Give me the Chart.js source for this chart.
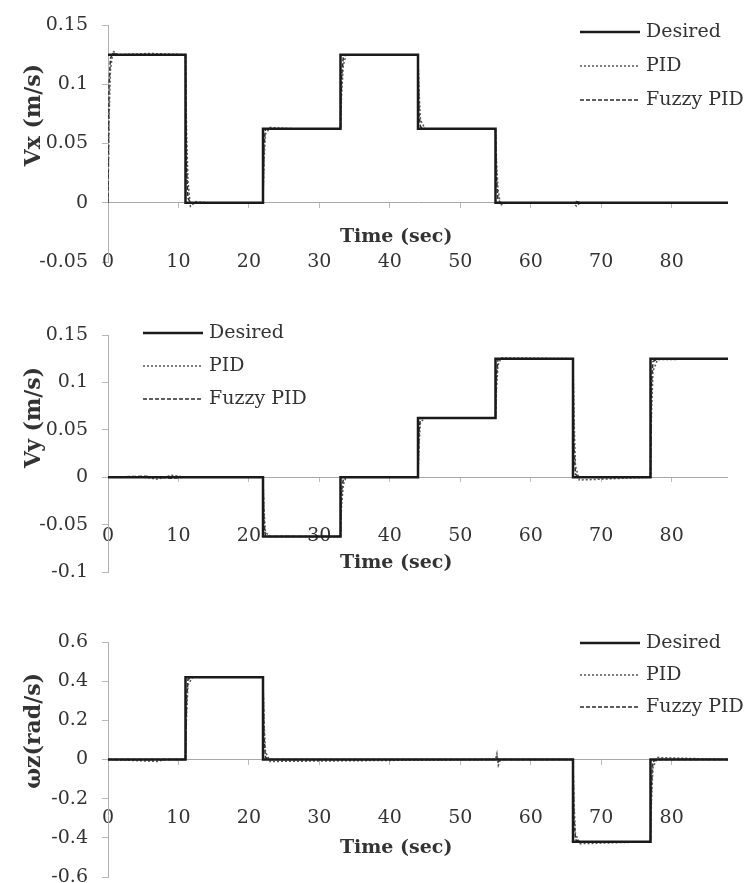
<!DOCTYPE html>
<html>
<head>
<meta charset="utf-8">
<script src="https://cdn.jsdelivr.net/npm/chart.js@4.4.0/dist/chart.umd.min.js"></script>
<style>
  html, body { margin: 0; padding: 0; background: #fff; }
  #wrap { position: relative; width: 749px; height: 883px; }
  canvas { position: absolute; left: 0; }
</style>
</head>
<body>
<div id="wrap">
  <canvas id="vx" width="749" height="290" style="top:0px"></canvas>
  <canvas id="vy" width="749" height="310" style="top:290px"></canvas>
  <canvas id="wz" width="749" height="283" style="top:600px"></canvas>
</div>
<script>
// shared time axis
var timeTicks = [0, 10, 20, 30, 40, 50, 60, 70, 80];
var timeMax = 88;
var seriesNames = ['Desired', 'PID', 'Fuzzy PID'];

// Vx (m/s)
var vxTicks = [-0.05, 0, 0.05, 0.1, 0.15];
var vxDesiredT = [0, 11, 22, 33, 44, 55, 88];
var vxDesired = [0.125, 0, 0.0625, 0.125, 0.0625, 0, 0];
var vxRespT = [0, 0.15, 0.35, 0.7, 1.4, 6, 11, 11.15, 11.35, 11.7, 12.5, 14, 22, 22.15, 22.35, 23, 28, 33, 33.15, 33.4, 33.8, 44, 44.15, 44.35, 45, 55, 55.15, 55.35, 55.7, 56.5, 66, 66.5, 67, 88];
var vxPid = [0, 0.07, 0.112, 0.128, 0.125, 0.126, 0.125, 0.06, 0.018, -0.003, 0.001, 0, 0, 0.035, 0.058, 0.0635, 0.062, 0.0625, 0.09, 0.116, 0.125, 0.125, 0.094, 0.07, 0.0625, 0.0625, 0.035, 0.012, -0.002, 0, 0, -0.003, 0, 0];
var vxFuzzy = [0, 0.1, 0.122, 0.126, 0.125, 0.125, 0.125, 0.03, 0.004, 0, 0, 0, 0, 0.05, 0.062, 0.0625, 0.0625, 0.0625, 0.105, 0.123, 0.125, 0.125, 0.075, 0.064, 0.0625, 0.0625, 0.02, 0.003, 0, 0, 0, 0.001, 0, 0];

// Vy (m/s)
var vyTicks = [-0.1, -0.05, 0, 0.05, 0.1, 0.15];
var vyDesiredT = [0, 22, 33, 44, 55, 66, 77, 88];
var vyDesired = [0, -0.0625, 0, 0.0625, 0.125, 0, 0.125, 0.125];
var vyRespT = [0, 5, 7, 9, 11, 22, 22.15, 22.35, 23, 33, 33.15, 33.4, 33.8, 44, 44.15, 44.35, 45, 55, 55.15, 55.35, 55.8, 66, 66.15, 66.35, 66.9, 77, 77.15, 77.35, 78, 88];
var vyPid = [0, 0, -0.002, 0.002, 0, 0, -0.035, -0.058, -0.0625, -0.0625, -0.03, -0.008, 0, 0, 0.035, 0.058, 0.0625, 0.0625, 0.095, 0.118, 0.126, 0.125, 0.06, 0.012, -0.003, 0, 0.07, 0.112, 0.124, 0.125];
var vyFuzzy = [0, 0.001, 0, -0.001, 0, 0, -0.05, -0.062, -0.0625, -0.0625, -0.015, -0.002, 0, 0, 0.05, 0.062, 0.0625, 0.0625, 0.108, 0.124, 0.125, 0.125, 0.03, 0.003, 0, 0, 0.1, 0.122, 0.125, 0.125];

// wz (rad/s)
var wzTicks = [-0.6, -0.4, -0.2, 0, 0.2, 0.4, 0.6];
var wzDesiredT = [0, 11, 22, 66, 77, 88];
var wzDesired = [0, 0.42, 0, -0.42, 0, 0];
var wzRespT = [0, 7, 8, 11, 11.15, 11.35, 12, 22, 22.15, 22.35, 23, 55, 55.2, 55.4, 55.7, 66, 66.15, 66.35, 67, 77, 77.15, 77.35, 78, 88];
var wzPid = [0, -0.01, 0, 0, 0.22, 0.38, 0.42, 0.42, 0.2, 0.04, -0.01, 0, 0.03, -0.03, 0, 0, -0.22, -0.38, -0.43, -0.42, -0.2, -0.04, 0.01, 0];
var wzFuzzy = [0, 0, 0, 0, 0.3, 0.41, 0.42, 0.42, 0.12, 0.01, 0, 0, 0.015, -0.01, 0, 0, -0.3, -0.41, -0.42, -0.42, -0.12, -0.01, 0, 0];

var FONT = '"DejaVu Serif", serif';
Chart.defaults.font.family = FONT;
Chart.defaults.font.size = 19;
Chart.defaults.color = '#333';

function pts(t, v) {
    return t.map(function (x, i) { return { x: x, y: v[i] }; });
}

function makeDatasets(dT, d, rT, pid, fuzzy) {
    return [
        { label: seriesNames[0], data: pts(dT, d), stepped: true, borderColor: '#1a1a1a', borderWidth: 2.5, pointRadius: 0 },
        { label: seriesNames[1], data: pts(rT, pid), borderColor: '#555', borderWidth: 1.5, borderDash: [2, 2], pointRadius: 0 },
        { label: seriesNames[2], data: pts(rT, fuzzy), borderColor: '#2a2a2a', borderWidth: 1.5, borderDash: [4, 2], pointRadius: 0 }
    ];
}

function timeTickList(s) {
    s.ticks = timeTicks.map(function (v) { return { value: v }; });
}

// axis titles and the three-line legend, placed like the original figure
var plotText = {
    id: 'plotText',
    afterDraw: function (chart, args, opts) {
        var ctx = chart.ctx, xs = chart.scales.x, ys = chart.scales.y;
        ctx.save();
        ctx.fillStyle = '#333';
        ctx.textAlign = 'center';
        ctx.textBaseline = 'middle';
        ctx.font = 'bold 19px ' + FONT;
        ctx.fillText(opts.xTitle, xs.getPixelForValue(opts.xTitleAt[0]), ys.getPixelForValue(opts.xTitleAt[1]));
        ctx.save();
        ctx.font = 'bold 22px ' + FONT;
        ctx.translate(opts.yTitleX, ys.getPixelForValue(opts.yTitleAt));
        ctx.rotate(-Math.PI / 2);
        ctx.fillText(opts.yTitle, 0, 0);
        ctx.restore();

        ctx.font = '19px ' + FONT;
        ctx.textAlign = 'left';
        chart.data.datasets.forEach(function (ds, i) {
            var y = opts.legendY + i * opts.legendGap;
            ctx.beginPath();
            ctx.strokeStyle = ds.borderColor;
            ctx.lineWidth = ds.borderWidth;
            ctx.setLineDash(ds.borderDash || []);
            ctx.moveTo(opts.legendX, y);
            ctx.lineTo(opts.legendX + 60, y);
            ctx.stroke();
            ctx.setLineDash([]);
            ctx.fillText(ds.label, opts.legendX + 66, y);
        });
        ctx.restore();
    }
};

function makeChart(id, o) {
    return new Chart(document.getElementById(id), {
        type: 'line',
        data: { datasets: o.datasets },
        options: {
            responsive: false,
            animation: false,
            layout: { padding: { top: o.top, right: 21, bottom: o.bottom, left: 0 } },
            plugins: {
                legend: { display: false },
                tooltip: { enabled: false },
                plotText: o.text
            },
            scales: {
                x: {
                    type: 'linear', min: 0, max: timeMax,
                    // time labels sit at a fixed level inside the plot, as in the original
                    position: { y: o.xLabelAt },
                    border: { display: false },
                    grid: { display: false, drawTicks: false },
                    afterBuildTicks: timeTickList,
                    ticks: { padding: -11, maxRotation: 0, autoSkip: false }
                },
                // only the small tick marks hanging under the zero line
                x0: {
                    type: 'linear', min: 0, max: timeMax,
                    position: { y: 0 },
                    border: { display: false },
                    grid: { drawOnChartArea: false, color: '#bbb', tickLength: 5 },
                    afterBuildTicks: timeTickList,
                    ticks: { display: false }
                },
                y: {
                    type: 'linear', min: o.yTicks[0], max: o.yTicks[o.yTicks.length - 1],
                    border: { color: '#b0b0b0', width: 1 },
                    grid: {
                        color: function (c) { return c.tick && c.tick.value === 0 ? '#a8a8a8' : 'rgba(0,0,0,0)'; },
                        tickColor: '#b8b8b8',
                        tickLength: 6
                    },
                    afterBuildTicks: function (s) { s.ticks = o.yTicks.map(function (v) { return { value: v }; }); },
                    afterFit: function (s) { s.width = 108; s.paddingTop = 0; s.paddingBottom = 0; },
                    ticks: { padding: 14, autoSkip: false, callback: function (v) { return String(v); } }
                }
            }
        },
        plugins: [plotText]
    });
}

makeChart('vx', {
    datasets: makeDatasets(vxDesiredT, vxDesired, vxRespT, vxPid, vxFuzzy),
    yTicks: vxTicks, top: 25, bottom: 28, xLabelAt: -0.05,
    text: { xTitle: 'Time (sec)', xTitleAt: [40.9, -0.029], yTitle: 'Vx (m/s)', yTitleAt: 0.074, yTitleX: 34,
            legendX: 580, legendY: 32, legendGap: 34 }
});

makeChart('vy', {
    datasets: makeDatasets(vyDesiredT, vyDesired, vyRespT, vyPid, vyFuzzy),
    yTicks: vyTicks, top: 45, bottom: 28, xLabelAt: -0.062,
    text: { xTitle: 'Time (sec)', xTitleAt: [40.9, -0.091], yTitle: 'Vy (m/s)', yTitleAt: 0.063, yTitleX: 34,
            legendX: 143, legendY: 43, legendGap: 33 }
});

makeChart('wz', {
    datasets: makeDatasets(wzDesiredT, wzDesired, wzRespT, wzPid, wzFuzzy),
    yTicks: wzTicks, top: 42, bottom: 6, xLabelAt: -0.296,
    text: { xTitle: 'Time (sec)', xTitleAt: [40.9, -0.452], yTitle: 'ωz(rad/s)', yTitleAt: 0.146, yTitleX: 34,
            legendX: 580, legendY: 43, legendGap: 32 }
});
</script>
</body>
</html>
